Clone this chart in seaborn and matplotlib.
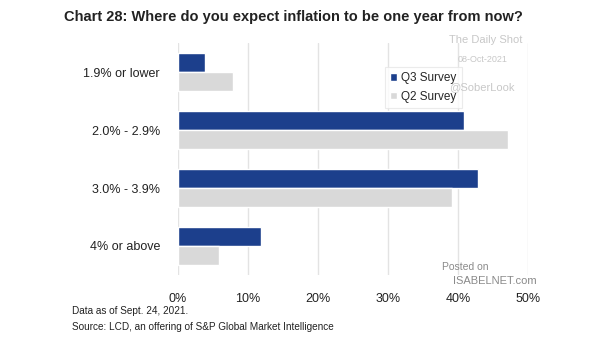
import matplotlib
matplotlib.use("Agg")
import matplotlib.pyplot as plt
import seaborn as sns
import pandas as pd
from matplotlib.ticker import FuncFormatter

categories = ["1.9% or lower", "2.0% - 2.9%", "3.0% - 3.9%", "4% or above"]
q3_values = [3.9, 40.9, 42.9, 11.9]
q2_values = [7.8, 47.1, 39.2, 5.8]
series_names = ["Q3 Survey", "Q2 Survey"]
x_ticks = [0, 10, 20, 30, 40, 50]

df = pd.DataFrame({
    "category": categories * 2,
    "value": q3_values + q2_values,
    "series": [series_names[0]] * len(categories) + [series_names[1]] * len(categories),
})

sns.set_theme(style="white")
plt.rcParams["font.family"] = ["Liberation Sans", "DejaVu Sans"]

fig = plt.figure(figsize=(6.05, 3.41), dpi=100)
ax = fig.add_axes([178 / 605, 66 / 341, 350 / 605, 232 / 341])

sns.barplot(data=df, x="value", y="category", hue="series", order=categories,
            hue_order=series_names, palette=["#1c3f8c", "#d9d9d9"],
            width=0.67, orient="h", ax=ax, saturation=1, errorbar=None)

ax.set_xlim(0, 50)
ax.set_ylim(3.5, -0.5)
ax.set_xticks(x_ticks)
ax.xaxis.set_major_formatter(FuncFormatter(lambda v, p: f"{v:.0f}%"))
ax.grid(axis="x", color="#e3e3e3", linewidth=1)
ax.set_axisbelow(True)
for s in ax.spines.values():
    s.set_visible(False)
ax.set_xlabel("")
ax.set_ylabel("")
ax.tick_params(axis="both", length=0, labelsize=9, colors="#222222")
ax.tick_params(axis="x", pad=13)
ax.tick_params(axis="y", pad=13)

leg = ax.legend(loc="upper left", bbox_to_anchor=(385 / 605, 1 - 67 / 341),
                bbox_transform=fig.transFigure, frameon=True,
                fontsize=8.5, handlelength=0.6, handleheight=0.6, handletextpad=0.3,
                borderpad=0.45, labelspacing=0.55, borderaxespad=0, fancybox=False)
leg.get_frame().set_edgecolor("#e6e6e6")
leg.get_frame().set_linewidth(0.8)

fig.text(64 / 605, 1 - 17 / 341, "Chart 28: Where do you expect inflation to be one year from now?",
         fontsize=10.5, fontweight="bold", va="center", ha="left", color="#222222")
fig.text(72 / 605, 1 - 311 / 341, "Data as of Sept. 24, 2021.", fontsize=7.2, va="center", color="#222222")
fig.text(72 / 605, 1 - 327 / 341, "Source: LCD, an offering of S&P Global Market Intelligence",
         fontsize=7.2, va="center", color="#222222")

# watermarks
wm = "#c8c8c8"
fig.text(522 / 605, 1 - 40 / 341, "The Daily Shot", fontsize=8, ha="right", va="center", color=wm)
fig.text(508 / 605, 1 - 59 / 341, "08-Oct-2021", fontsize=6.5, ha="right", va="center", color=wm)
fig.text(515 / 605, 1 - 87 / 341, "@SoberLook", fontsize=8, ha="right", va="center", color=wm)
fig.text(489 / 605, 1 - 267 / 341, "Posted on", fontsize=7.5, ha="right", va="center", color="#8a8a8a")
fig.text(537 / 605, 1 - 281 / 341, "ISABELNET.com", fontsize=8, ha="right", va="center", color="#8a8a8a")

fig.savefig("out.png", dpi=100)
